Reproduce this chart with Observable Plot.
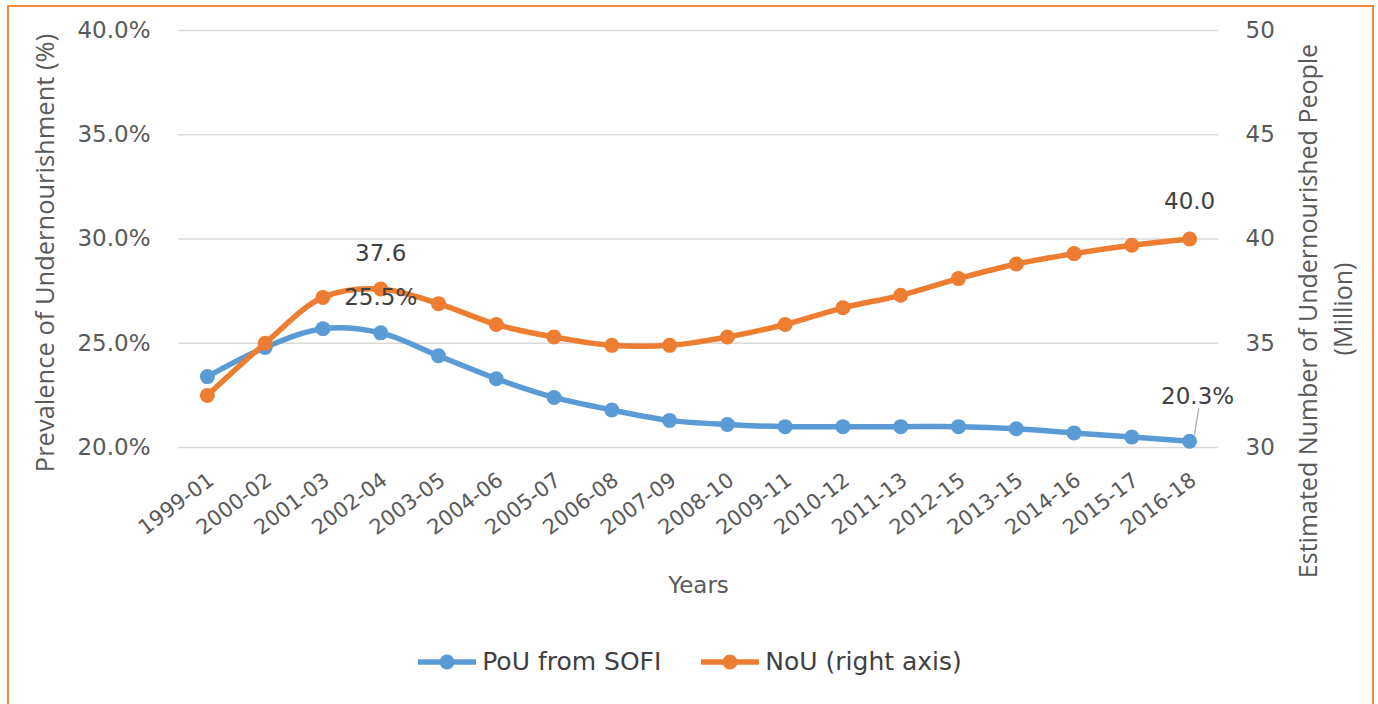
<!DOCTYPE html>
<html>
<head>
<meta charset="utf-8">
<script src="https://cdn.jsdelivr.net/npm/d3@7"></script>
<script src="https://cdn.jsdelivr.net/npm/@observablehq/plot@0.6"></script>
<style>
  html, body { margin: 0; padding: 0; background: #fff; }
  body { width: 1378px; height: 704px; position: relative; overflow: hidden; font-family: "DejaVu Sans", sans-serif; }
  #frame { position: absolute; left: 7px; top: 5px; width: 1367px; height: 740px; border: 2.5px solid #F58B3C; box-sizing: border-box; pointer-events: none; }
  #chart { position: absolute; left: 0; top: 0; }
  #legend { position: absolute; top: 647px; left: 0; width: 1378px; display: flex; justify-content: center; gap: 38px; font-size: 25px; color: #404040; line-height: 30px; }
  .item { display: flex; align-items: center; gap: 4px; }
</style>
</head>
<body>
<div id="chart"></div>
<div id="legend"></div>
<div id="frame"></div>
<script>
const categories = ["1999-01","2000-02","2001-03","2002-04","2003-05","2004-06","2005-07","2006-08","2007-09","2008-10","2009-11","2010-12","2011-13","2012-15","2013-15","2014-16","2015-17","2016-18"];
const pouValues = [23.4, 24.8, 25.7, 25.5, 24.4, 23.3, 22.4, 21.8, 21.3, 21.1, 21.0, 21.0, 21.0, 21.0, 20.9, 20.7, 20.5, 20.3];
const nouValues = [32.5, 35.0, 37.2, 37.6, 36.9, 35.9, 35.3, 34.9, 34.9, 35.3, 35.9, 36.7, 37.3, 38.1, 38.8, 39.3, 39.7, 40.0];
const leftTicks = [20, 25, 30, 35, 40];
const rightTicks = [30, 35, 40, 45, 50];
const seriesNames = ["PoU from SOFI", "NoU (right axis)"];
const colors = ["#5B9BD5", "#ED7D31"];

// secondary axis mapping: right 30..50 -> left 20..40
const toLeft = v => v - 10;
const pou = categories.map((c, i) => ({cat: c, v: pouValues[i], raw: pouValues[i]}));
const nou = categories.map((c, i) => ({cat: c, v: toLeft(nouValues[i]), raw: nouValues[i]}));

const txt = "#595959";
const lab = "#404040";
const titleFont = "Open Sans, sans-serif";
const chart = Plot.plot({
  width: 1378, height: 704,
  marginLeft: 178, marginRight: 160, marginTop: 30, marginBottom: 257,
  style: {fontFamily: "DejaVu Sans, sans-serif", background: "transparent"},
  x: {type: "point", domain: categories, padding: 0.5, round: false, axis: null},
  y: {domain: [20, 40], axis: null},
  marks: [
    Plot.gridY(leftTicks, {stroke: "#d9d9d9", strokeOpacity: 1, strokeWidth: 1.5}),
    Plot.axisY(leftTicks, {anchor: "left", tickSize: 0, tickPadding: 28, fontSize: 23, fill: txt, tickFormat: d => d.toFixed(1) + "%", label: null}),
    Plot.axisY(rightTicks.map(toLeft), {anchor: "right", tickSize: 0, tickPadding: 27, fontSize: 23, fill: txt, tickFormat: d => String(d + 10), label: null}),
    Plot.axisX(categories, {anchor: "bottom", tickSize: 0, tickPadding: 30, dx: 4, tickRotate: -37, fontSize: 21, fill: txt, label: null}),
    Plot.text(["Years"], {frameAnchor: "bottom", dy: 138, fontSize: 23, fill: txt, lineAnchor: "middle"}),
    Plot.text(["Prevalence of Undernourishment (%)"], {frameAnchor: "left", textAnchor: "middle", lineAnchor: "middle", rotate: -90, dx: -133, dy: 14, fontSize: 25.5, fontFamily: titleFont, fill: txt}),
    Plot.text(["Estimated Number of Undernourished People"], {frameAnchor: "right", textAnchor: "middle", lineAnchor: "middle", rotate: -90, dx: 90, dy: 72, fontSize: 25, fontFamily: titleFont, fill: txt}),
    Plot.text(["(Million)"], {frameAnchor: "right", textAnchor: "middle", lineAnchor: "middle", rotate: -90, dx: 125, dy: 70, fontSize: 25, fontFamily: titleFont, fill: txt}),
    Plot.line(pou, {x: "cat", y: "v", stroke: colors[0], strokeWidth: 5.5, curve: "catmull-rom"}),
    Plot.dot(pou, {x: "cat", y: "v", r: 7.5, fill: colors[0]}),
    Plot.line(nou, {x: "cat", y: "v", stroke: colors[1], strokeWidth: 5.5, curve: "catmull-rom"}),
    Plot.dot(nou, {x: "cat", y: "v", r: 7.5, fill: colors[1]}),
    Plot.vector(pou.filter(d => d.cat === "2016-18"), {x: "cat", y: "v", length: 26, rotate: 9, anchor: "start", dx: 5, dy: -7, stroke: "#a6a6a6", strokeWidth: 1.2, shape: {draw(ctx, l) { ctx.moveTo(0, 0); ctx.lineTo(0, -l); }}}),
    Plot.text(nou.filter(d => d.cat === "2002-04"), {x: "cat", y: "v", text: d => d.raw.toFixed(1), dy: -35, fontSize: 23, fill: lab}),
    Plot.text(pou.filter(d => d.cat === "2002-04"), {x: "cat", y: "v", text: d => d.raw.toFixed(1) + "%", dy: -35, fontSize: 23, fill: lab}),
    Plot.text(nou.filter(d => d.cat === "2016-18"), {x: "cat", y: "v", text: d => d.raw.toFixed(1), dy: -37, fontSize: 23, fill: lab}),
    Plot.text(pou.filter(d => d.cat === "2016-18"), {x: "cat", y: "v", text: d => d.raw.toFixed(1) + "%", dy: -45, dx: 8, fontSize: 23, fill: lab})
  ]
});
document.getElementById("chart").appendChild(chart);

const legend = document.getElementById("legend");
seriesNames.forEach((name, i) => {
  const item = document.createElement("div");
  item.className = "item";
  item.innerHTML = `<svg width="62" height="20"><line x1="2" y1="10" x2="60" y2="10" stroke="${colors[i]}" stroke-width="5.5"/><circle cx="31" cy="10" r="7.5" fill="${colors[i]}"/></svg><span>${name}</span>`;
  legend.appendChild(item);
});
</script>
</body>
</html>
